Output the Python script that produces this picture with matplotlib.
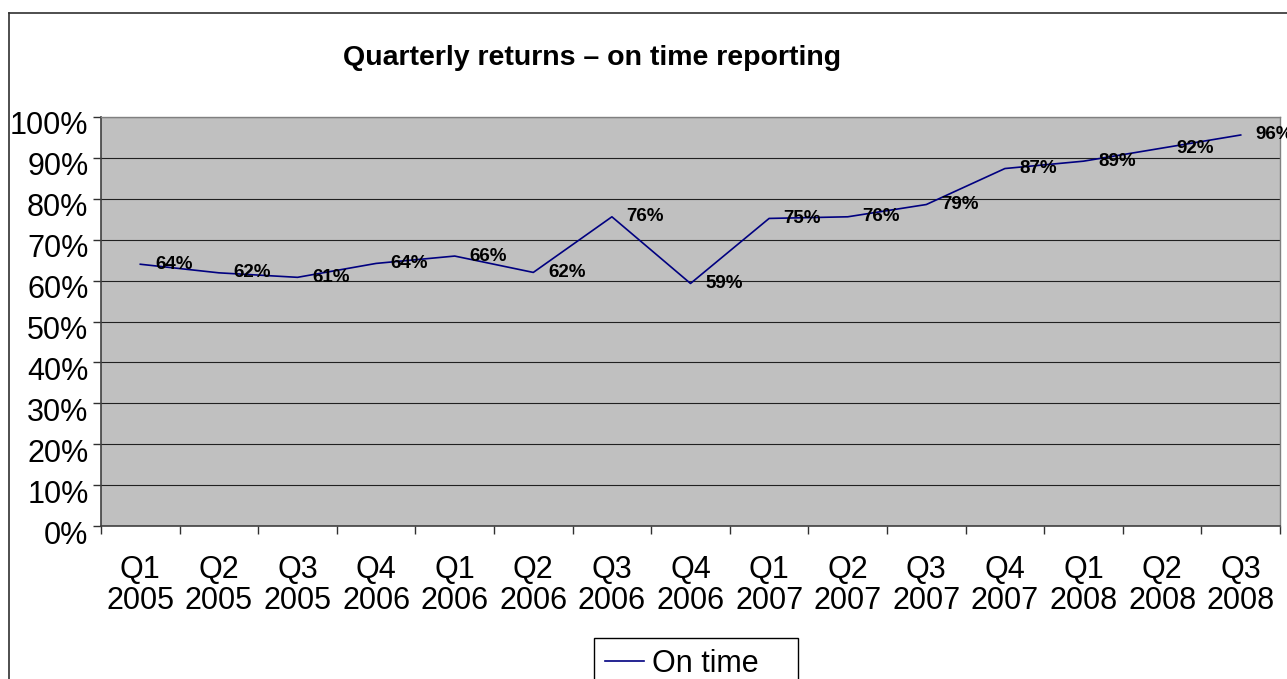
import matplotlib
matplotlib.use("Agg")
import matplotlib.pyplot as plt
from matplotlib.lines import Line2D
from matplotlib.transforms import ScaledTranslation
import numpy as np

plt.rcParams['font.family'] = ['Liberation Sans', 'DejaVu Sans']

quarters = ["Q1\n2005", "Q2\n2005", "Q3\n2005", "Q4\n2006", "Q1\n2006", "Q2\n2006",
            "Q3\n2006", "Q4\n2006", "Q1\n2007", "Q2\n2007", "Q3\n2007", "Q4\n2007",
            "Q1\n2008", "Q2\n2008", "Q3\n2008"]
on_time = [64.0, 61.9, 60.8, 64.2, 66.0, 62.0, 75.6, 59.3, 75.2, 75.6,
           78.6, 87.4, 89.2, 92.4, 95.6]
data_labels = ["64%", "62%", "61%", "64%", "66%", "62%", "76%", "59%", "75%", "76%",
               "79%", "87%", "89%", "92%", "96%"]
yticks = [0, 10, 20, 30, 40, 50, 60, 70, 80, 90, 100]
ytick_labels = [f"{v}%" for v in yticks]
title = "Quarterly returns – on time reporting"
series_name = "On time"

W, H = 1287, 679
fig = plt.figure(figsize=(W / 100, H / 100), dpi=100)
ax = fig.add_axes([101 / W, 1 - 526 / H, (1280 - 101) / W, (526 - 117) / H])
ax.set_facecolor('#C0C0C0')

x = np.arange(len(quarters))
ax.plot(x, on_time, color='#000080', lw=1.2, label=series_name, zorder=3)

for xi, yi, lab in zip(x, on_time, data_labels):
    ax.annotate(lab, (xi, yi), xytext=(10.5, 0), textcoords='offset points',
                ha='left', va='center', fontsize=13.5, fontweight='bold',
                color='black', annotation_clip=False, zorder=4)

ax.set_xlim(-0.5, len(quarters) - 0.5)
ax.set_ylim(0, 100)
ax.set_yticks(yticks)
ax.set_yticklabels(ytick_labels, fontsize=22)
ax.set_xticks(x)
ax.set_xticklabels(quarters, fontsize=22, linespacing=1.05)
ax.set_xticks(np.arange(-0.5, len(quarters), 1.0), minor=True)
ax.tick_params(axis='x', which='major', length=0, pad=21)
ax.tick_params(axis='x', which='minor', length=6, width=1, color='#303030', direction='out')
ax.tick_params(axis='y', which='major', length=6, width=1, color='#303030', direction='out', pad=3)

off = ScaledTranslation(0, -6 / 100, fig.dpi_scale_trans)
for lab in ax.get_yticklabels():
    lab.set_transform(lab.get_transform() + off)

ax.yaxis.grid(True, color='#202020', lw=0.8)
ax.set_axisbelow(True)
for s in ['left', 'bottom']:
    ax.spines[s].set_color('#404040')
    ax.spines[s].set_linewidth(1.2)
for s in ['top', 'right']:
    ax.spines[s].set_color('#808080')
    ax.spines[s].set_linewidth(1.0)

fig.text(592 / W, 1 - 58 / H, title, ha='center', va='center', fontsize=20.5, fontweight='bold')

# outer chart border (partly cropped)
fig.add_artist(Line2D([8.5 / W, 8.5 / W], [0, 1 - 13 / H], transform=fig.transFigure,
                      color='#303030', lw=1.2))
fig.add_artist(Line2D([8.5 / W, 1], [1 - 13 / H, 1 - 13 / H], transform=fig.transFigure,
                      color='#303030', lw=1.2))

leg = ax.legend(loc='upper left', bbox_to_anchor=(594 / W, 0, 204 / W, 1 - 638 / H),
                bbox_transform=fig.transFigure, mode='expand', borderaxespad=0,
                fontsize=22, frameon=True, fancybox=False, framealpha=1,
                edgecolor='black', handlelength=1.3, handletextpad=0.25,
                borderpad=0.35)
leg.get_frame().set_linewidth(1.0)

fig.savefig('out.png', dpi=100)
